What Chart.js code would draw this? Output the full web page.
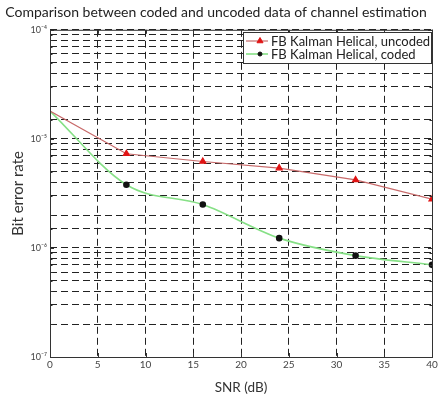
<!DOCTYPE html>
<html>
<head>
<meta charset="utf-8">
<script src="https://cdn.jsdelivr.net/npm/chart.js@4.4.1/dist/chart.umd.min.js"></script>
<style>
  html, body { margin: 0; padding: 0; background: #fff; }
  #wrap { width: 444px; height: 400px; }
</style>
</head>
<body>
<div id="wrap"><canvas id="berChart" width="444" height="400"></canvas></div>
<script>
// 데이터
const snrDb = [0, 8, 16, 24, 32, 40];
const berUncoded = [1.8e-5, 7.3e-6, 6.2e-6, 5.4e-6, 4.2e-6, 2.8e-6];
const berCoded = [1.8e-5, 3.8e-6, 2.5e-6, 1.23e-6, 8.5e-7, 7.0e-7];
const seriesNames = ['FB Kalman Helical, uncoded', 'FB Kalman Helical, coded'];
const xTicks = [0, 5, 10, 15, 20, 25, 30, 35, 40];

const FONT = 'Lato, "Open Sans", sans-serif';
const sup = { '-': '⁻', '0': '⁰', '1': '¹', '2': '²', '3': '³', '4': '⁴', '5': '⁵', '6': '⁶', '7': '⁷', '8': '⁸', '9': '⁹' };
const powLabel = (v) => {
    const e = Math.log10(v);
    if (Math.abs(e - Math.round(e)) > 1e-6) return '';
    return '10' + String(Math.round(e)).split('').map(c => sup[c]).join('');
};

// 축 테두리 + 안쪽 눈금 + 범례 상자
const framePlugin = {
    id: 'frame',
    afterDraw(chart) {
        const { ctx, chartArea: a, scales } = chart;
        ctx.save();
        ctx.strokeStyle = '#333';
        ctx.lineWidth = 1;
        ctx.setLineDash([]);
        ctx.strokeRect(a.left + 0.5, a.top + 0.5, a.right - a.left, a.bottom - a.top);

        ctx.beginPath();
        xTicks.forEach(v => {
            const px = Math.round(scales.x.getPixelForValue(v)) + 0.5;
            ctx.moveTo(px, a.bottom); ctx.lineTo(px, a.bottom - 4);
            ctx.moveTo(px, a.top); ctx.lineTo(px, a.top + 4);
        });
        scales.y.ticks.forEach(t => {
            const py = Math.round(scales.y.getPixelForValue(t.value)) + 0.5;
            const len = powLabel(t.value) ? 4 : 2.5;
            ctx.moveTo(a.left, py); ctx.lineTo(a.left + len, py);
            ctx.moveTo(a.right, py); ctx.lineTo(a.right - len, py);
        });
        ctx.stroke();

        // 범례
        const bx = 243, by = 32, bw = 188, bh = 31;
        ctx.fillStyle = '#fff';
        ctx.fillRect(bx, by, bw, bh);
        ctx.strokeStyle = '#333';
        ctx.strokeRect(bx + 0.5, by + 0.5, bw, bh);
        ctx.font = '13px ' + FONT;
        ctx.textBaseline = 'middle';
        chart.data.datasets.forEach((ds, i) => {
            const y = by + 9 + i * 13;
            ctx.strokeStyle = ds.borderColor;
            ctx.lineWidth = ds.borderWidth;
            ctx.beginPath();
            ctx.moveTo(bx + 3, y); ctx.lineTo(bx + 25, y);
            ctx.stroke();
            ctx.fillStyle = ds.pointBackgroundColor;
            ctx.strokeStyle = ds.pointBorderColor;
            ctx.lineWidth = 1;
            Chart.helpers.drawPoint(ctx, {
                pointStyle: ds.pointStyle, radius: ds.legendRadius, borderWidth: 1, rotation: 0
            }, bx + 17, y);
            ctx.fillStyle = '#222';
            ctx.fillText(ds.label, bx + 28, y + 0.5);
        });
        ctx.restore();
    }
};

const ctx = document.getElementById('berChart').getContext('2d');
new Chart(ctx, {
    type: 'line',
    data: {
        datasets: [{
            label: seriesNames[0],
            data: snrDb.map((x, i) => ({ x, y: berUncoded[i] })),
            borderColor: '#c86a6a',
            borderWidth: 1.2,
            pointStyle: 'triangle',
            pointRadius: (c) => c.dataIndex === 0 ? 0 : 3.5,
            legendRadius: 3.5,
            pointBackgroundColor: '#e01414',
            pointBorderColor: '#e01414',
            tension: 0
        }, {
            label: seriesNames[1],
            data: snrDb.map((x, i) => ({ x, y: berCoded[i] })),
            borderColor: '#86e086',
            borderWidth: 1.6,
            pointStyle: 'circle',
            pointRadius: (c) => c.dataIndex === 0 ? 0 : 2.5,
            legendRadius: 2,
            pointBackgroundColor: '#111',
            pointBorderColor: '#111',
            cubicInterpolationMode: 'monotone'
        }]
    },
    options: {
        responsive: false,
        animation: false,
        layout: { padding: { left: 0, right: 12, top: 0, bottom: 0 } },
        scales: {
            x: {
                type: 'linear',
                min: 0, max: 40,
                afterBuildTicks: (s) => { s.ticks = xTicks.map(v => ({ value: v })); },
                afterFit: (s) => { s.height = 43; },
                grid: { color: '#222', lineWidth: 1, drawTicks: false },
                border: { display: false, dash: [7, 4] },
                ticks: { color: '#444', font: { size: 10, family: FONT }, padding: 2, maxRotation: 0 },
                title: { display: true, text: 'SNR (dB)', color: '#333', font: { size: 13.5, family: FONT }, padding: { top: 2, bottom: 4 } }
            },
            y: {
                type: 'logarithmic',
                min: 1e-7, max: 1e-4,
                afterFit: (s) => { s.width = 50; },
                grid: { color: '#222', lineWidth: 1, drawTicks: false },
                border: { display: false, dash: [7, 4] },
                ticks: {
                    autoSkip: false,
                    color: '#444',
                    font: { size: 9, family: FONT },
                    padding: 3,
                    callback: (v) => powLabel(v)
                },
                title: { display: true, text: 'Bit error rate', color: '#333', font: { size: 15, family: FONT }, padding: { top: 9, bottom: 2 } }
            }
        },
        plugins: {
            legend: { display: false },
            tooltip: { enabled: false },
            title: {
                display: true,
                text: 'Comparison between coded and uncoded data of channel estimation',
                color: '#222',
                font: { size: 14, weight: 'normal', family: FONT },
                padding: { top: 4, bottom: 9 }
            }
        }
    },
    plugins: [framePlugin]
});
</script>
</body>
</html>
